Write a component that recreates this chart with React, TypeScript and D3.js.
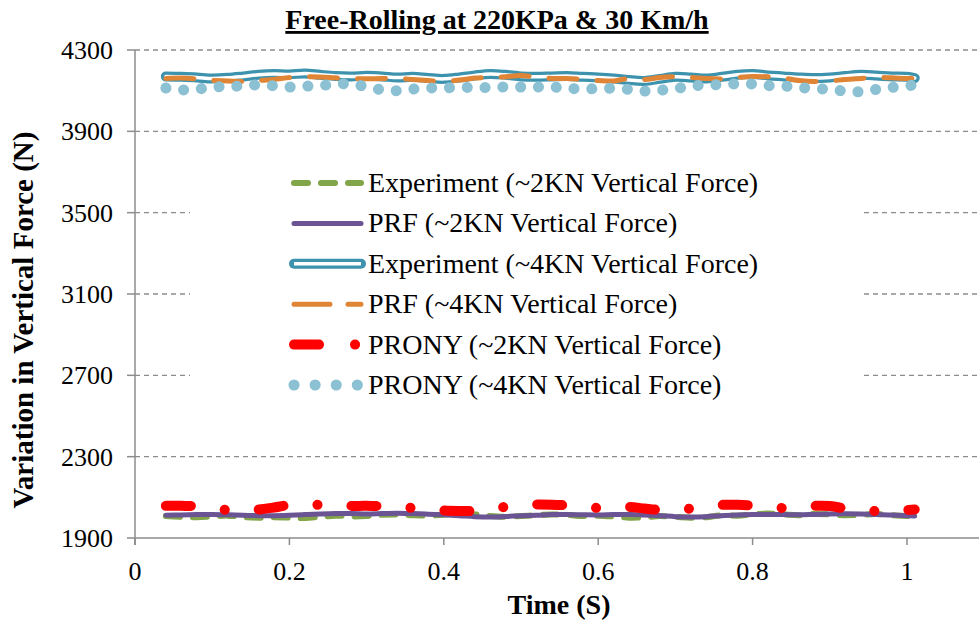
import * as d3 from "d3";
import { useEffect, useRef } from "react";

// time axis (s)
const times = [
  0.04, 0.06, 0.08, 0.1, 0.12, 0.14, 0.16, 0.18, 0.2, 0.22,
  0.24, 0.26, 0.28, 0.3, 0.32, 0.34, 0.36, 0.38, 0.4, 0.42,
  0.44, 0.46, 0.48, 0.5, 0.52, 0.54, 0.56, 0.58, 0.6, 0.62,
  0.64, 0.66, 0.68, 0.7, 0.72, 0.74, 0.76, 0.78, 0.8, 0.82,
  0.84, 0.86, 0.88, 0.9, 0.92, 0.94, 0.96, 0.98, 1.0, 1.01,
];

const exp2 = [
  2008, 2004, 2002, 2006, 2010, 2003, 2000, 2002, 2000, 1998,
  2004, 2010, 2006, 2008, 2014, 2016, 2012, 2010, 2014, 2020,
  2016, 2008, 2004, 2008, 2012, 2016, 2014, 2008, 2010, 2006,
  2000, 2002, 2008, 2004, 2000, 2002, 2012, 2010, 2016, 2020,
  2016, 2012, 2018, 2016, 2012, 2014, 2018, 2012, 2008, 2006,
];
const prf2 = [
  2012, 2013, 2015, 2016, 2014, 2012, 2010, 2010, 2012, 2015,
  2018, 2020, 2020, 2018, 2020, 2022, 2020, 2017, 2014, 2010,
  2005, 2003, 2006, 2010, 2012, 2015, 2016, 2014, 2013, 2015,
  2016, 2013, 2010, 2005, 2003, 2005, 2010, 2013, 2015, 2016,
  2015, 2014, 2016, 2018, 2019, 2018, 2016, 2013, 2010, 2008,
];
const exp4 = [
  4170, 4168, 4165, 4160, 4163, 4170, 4178, 4182, 4180, 4185,
  4178, 4172, 4170, 4173, 4170, 4165, 4168, 4162, 4158, 4165,
  4175, 4182, 4178, 4170, 4168, 4170, 4172, 4168, 4165, 4160,
  4152, 4148, 4158, 4168, 4165, 4160, 4168, 4178, 4182, 4175,
  4170, 4165, 4162, 4165, 4172, 4178, 4175, 4170, 4168, 4162,
];
const prf4 = [
  4160, 4162, 4158, 4150, 4148, 4145, 4150, 4155, 4165, 4168,
  4167, 4163, 4160, 4158, 4160, 4160, 4155, 4150, 4145, 4152,
  4162, 4165, 4168, 4175, 4165, 4160, 4160, 4155, 4150, 4148,
  4160, 4155, 4165, 4168, 4165, 4160, 4158, 4165, 4170, 4168,
  4162, 4150, 4145, 4148, 4155, 4160, 4165, 4163, 4160, 4160,
];
const prony2 = [
  2058, 2058, 2056, 2045, 2038, 2036, 2040, 2050, 2062, 2064,
  2063, 2060, 2058, 2058, 2057, 2052, 2048, 2042, 2035, 2033,
  2034, 2045, 2053, 2060, 2065, 2064, 2060, 2052, 2048, 2050,
  2053, 2045, 2038, 2038, 2045, 2058, 2063, 2063, 2060, 2052,
  2048, 2052, 2058, 2057, 2045, 2035, 2033, 2036, 2038, 2040,
];
const prony4 = [
  4113, 4104, 4107, 4118, 4120, 4124, 4128, 4124, 4118, 4122,
  4124, 4134, 4132, 4120, 4104, 4100, 4108, 4113, 4113, 4117,
  4115, 4116, 4118, 4118, 4118, 4118, 4112, 4108, 4110, 4112,
  4106, 4098, 4102, 4110, 4122, 4128, 4130, 4133, 4133, 4125,
  4123, 4116, 4110, 4106, 4098, 4095, 4106, 4116, 4124, 4128,
];

const yTicks = [1900, 2300, 2700, 3100, 3500, 3900, 4300];
const xTicks = [0, 0.2, 0.4, 0.6, 0.8, 1];

const seriesNames = [
  "Experiment (~2KN Vertical Force)",
  "PRF (~2KN Vertical Force)",
  "Experiment (~4KN Vertical Force)",
  "PRF (~4KN Vertical Force)",
  "PRONY (~2KN Vertical Force)",
  "PRONY (~4KN Vertical Force)",
];

const FONT = "'Liberation Serif', 'Times New Roman', serif";

const App = () => {
  const ref = useRef<SVGSVGElement>(null);

  useEffect(() => {
    const svg = d3.select(ref.current);
    svg.selectAll("*").remove();

    const width = 979;
    const height = 623;
    const margin = { top: 50, right: 0, bottom: 85, left: 135 };
    const innerH = height - margin.top - margin.bottom;

    const x = d3.scaleLinear().domain([0, 1]).range([margin.left, 907]);
    const y = d3.scaleLinear().domain([1900, 4300]).range([margin.top + innerH, margin.top]);

    svg.append("rect").attr("width", width).attr("height", height).attr("fill", "#fff");

    // gridlines
    svg.append("g")
      .selectAll("line")
      .data(yTicks.slice(1))
      .enter()
      .append("line")
      .attr("x1", margin.left)
      .attr("x2", width)
      .attr("y1", d => y(d))
      .attr("y2", d => y(d))
      .attr("stroke", "#8c8c8c")
      .attr("stroke-width", 1.3)
      .attr("stroke-dasharray", "5 4");

    // legend background (hides gridlines)
    svg.append("rect")
      .attr("x", 190)
      .attr("y", 163)
      .attr("width", 673)
      .attr("height", 242)
      .attr("fill", "#fff");

    // axes
    const axisColor = "#8c8c8c";
    svg.append("line")
      .attr("x1", margin.left).attr("x2", width)
      .attr("y1", y(1900)).attr("y2", y(1900))
      .attr("stroke", axisColor).attr("stroke-width", 1.5);
    svg.append("line")
      .attr("x1", margin.left).attr("x2", margin.left)
      .attr("y1", y(4300)).attr("y2", y(1900) + 7)
      .attr("stroke", axisColor).attr("stroke-width", 1.5);

    svg.append("g")
      .selectAll("line")
      .data(yTicks)
      .enter()
      .append("line")
      .attr("x1", margin.left - 8).attr("x2", margin.left)
      .attr("y1", d => y(d)).attr("y2", d => y(d))
      .attr("stroke", axisColor).attr("stroke-width", 1.5);

    svg.append("g")
      .selectAll("line")
      .data(xTicks)
      .enter()
      .append("line")
      .attr("x1", d => x(d)).attr("x2", d => x(d))
      .attr("y1", y(1900)).attr("y2", y(1900) + 7)
      .attr("stroke", axisColor).attr("stroke-width", 1.5);

    svg.append("g")
      .selectAll("text")
      .data(yTicks)
      .enter()
      .append("text")
      .attr("x", 113)
      .attr("y", d => y(d) + 9)
      .attr("text-anchor", "end")
      .style("font-family", FONT)
      .style("font-size", "26px")
      .text(d => d);

    svg.append("g")
      .selectAll("text")
      .data(xTicks)
      .enter()
      .append("text")
      .attr("x", d => x(d))
      .attr("y", 580)
      .attr("text-anchor", "middle")
      .style("font-family", FONT)
      .style("font-size", "26px")
      .text(d => d);

    // titles
    svg.append("text")
      .attr("x", 497)
      .attr("y", 29)
      .attr("text-anchor", "middle")
      .style("font-family", FONT)
      .style("font-weight", "bold")
      .style("font-size", "28px")
      .style("text-decoration", "underline")
      .text("Free-Rolling at 220KPa & 30 Km/h");

    svg.append("text")
      .attr("x", 559)
      .attr("y", 614)
      .attr("text-anchor", "middle")
      .style("font-family", FONT)
      .style("font-weight", "bold")
      .style("font-size", "28px")
      .text("Time (S)");

    svg.append("text")
      .attr("transform", "translate(33,320) rotate(-90)")
      .attr("text-anchor", "middle")
      .style("font-family", FONT)
      .style("font-weight", "bold")
      .style("font-size", "29px")
      .text("Variation in Vertical Force (N)");

    const line = d3.line<number>()
      .x((_, i) => x(times[i]))
      .y(d => y(d))
      .curve(d3.curveCatmullRom);

    const styles = [
      { data: exp2, color: "#82a54a", width: 6, dash: "14 13", legendDash: "14 13" },
      { data: prf2, color: "#6a5494", width: 5, dash: null, legendDash: null },
      { data: exp4, color: "#3d93ae", width: 10, dash: null, legendDash: null, double: true },
      { data: prf4, color: "#e08536", width: 5, dash: "28 20", legendDash: "36 18" },
      { data: prony2, color: "#ff0000", width: 10, dash: "25 34 0.1 34", legendDash: "25 36 0.1 35" },
      { data: prony4, color: "#8cc0d3", width: 11, dash: "0.1 17.7", legendDash: "0.1 21" },
    ];

    styles.forEach(s => {
      const p = svg.append("path")
        .datum(s.data)
        .attr("d", line)
        .attr("fill", "none")
        .attr("stroke", s.color)
        .attr("stroke-width", s.width)
        .attr("stroke-linecap", "round")
        .attr("stroke-linejoin", "round");
      if (s.dash) p.attr("stroke-dasharray", s.dash);
      if (s.double) {
        svg.append("path")
          .datum(s.data)
          .attr("d", line)
          .attr("fill", "none")
          .attr("stroke", "#fff")
          .attr("stroke-width", 3.5)
          .attr("stroke-linecap", "round");
      }
    });

    // legend
    const lg = svg.append("g");
    styles.forEach((s, i) => {
      const ly = 183 + i * 40.4;
      const l = lg.append("line")
        .attr("x1", 294).attr("x2", 361)
        .attr("y1", ly).attr("y2", ly)
        .attr("stroke", s.color)
        .attr("stroke-width", s.width)
        .attr("stroke-linecap", "round");
      if (s.legendDash) l.attr("stroke-dasharray", s.legendDash);
      if (s.double) {
        lg.append("line")
          .attr("x1", 294).attr("x2", 361)
          .attr("y1", ly).attr("y2", ly)
          .attr("stroke", "#fff")
          .attr("stroke-width", 3.5);
      }
      lg.append("text")
        .attr("x", 368)
        .attr("y", ly + 9)
        .style("font-family", FONT)
        .style("font-size", "28px")
        .text(seriesNames[i]);
    });
  }, []);

  return (
    <svg
      ref={ref}
      width={979}
      height={623}
      style={{ position: "absolute", left: 0, top: 0, display: "block" }}
    />
  );
};

export default App;
